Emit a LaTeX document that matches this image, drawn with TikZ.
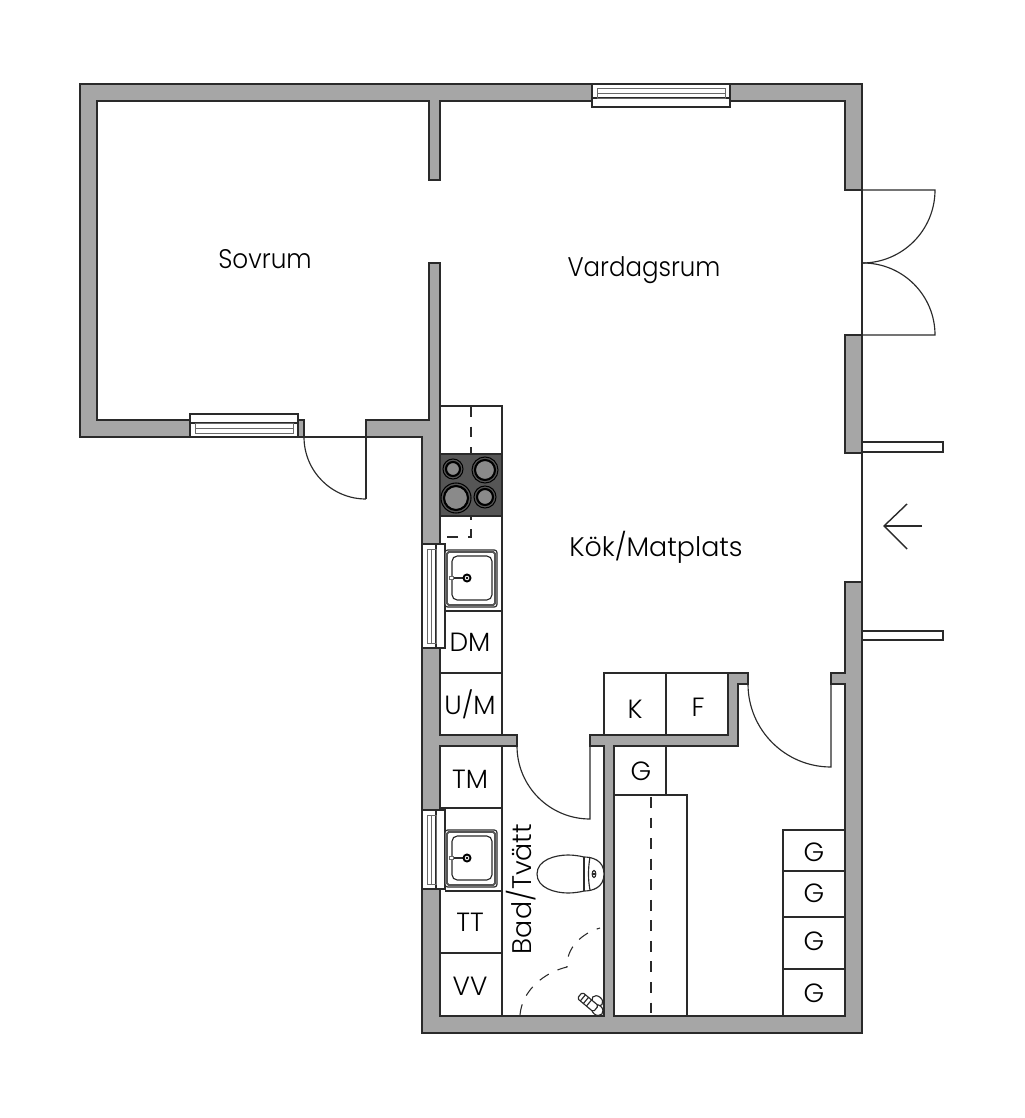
\documentclass[tikz,border=0pt]{standalone}
\usepackage{fontspec}
\setmainfont{Poppins Light}
\usepackage{xcolor}
\usepackage{tikz}
\usetikzlibrary{positioning}
\definecolor{wallgray}{HTML}{A6A6A6}
\definecolor{plateDark}{HTML}{565656}
\definecolor{burnerGray}{HTML}{8A8A8A}
\definecolor{inkDark}{HTML}{2A2A2A}
\tikzset{
	wall/.style={draw=inkDark, fill=wallgray, line width=0.6pt, line join=miter},
	fixture/.style={draw=inkDark, line width=0.65pt},
	pane/.style={draw=inkDark!70, line width=0.5pt},
	hidden/.style={draw=inkDark, line width=0.6pt, dash pattern=on 6.2pt off 5.5pt},
	room/.style={text=black, font=\fontsize{15.3}{18}\selectfont, inner sep=0pt},
	unit/.style={text=black, font=\fontsize{15}{18}\selectfont, inner sep=0pt},
}
\begin{document}
\begin{tikzpicture}[x=0.02cm, y=-0.02cm]
	\useasboundingbox (0,0) rectangle (1024,1118);

	\fill[white] (0,0) rectangle (1024,1118);

	% walls
	\draw[wall] (592,84) -- (80,84) -- (80,437) -- (190,437) -- (190,420) -- (97,420) -- (97,101) -- (429,101) -- (429,180) -- (440,180) -- (440,101) -- (592,101) -- cycle;
	\draw[wall] (730,84) -- (862,84) -- (862,190) -- (845,190) -- (845,101) -- (730,101) -- cycle;
	\draw[wall] (845,335) -- (862,335) -- (862,453) -- (845,453) -- cycle;
	\draw[wall] (366,437) -- (366,420) -- (429,420) -- (429,263) -- (440,263) -- (440,545) -- (422,545) -- (422,437) -- cycle;
	\draw[wall] (298,420) -- (304,420) -- (304,437) -- (298,437) -- cycle;
	\draw[wall] (422,648) -- (440,648) -- (440,735) -- (517,735) -- (517,746) -- (440,746) -- (440,810) -- (422,810) -- cycle;
	\draw[wall] (845,582) -- (862,582) -- (862,1033) -- (422,1033) -- (422,888) -- (440,888) -- (440,1016) -- (604,1016) -- (604,746) -- (590,746) -- (590,735) -- (728,735) -- (728,673) -- (748,673) -- (748,684) -- (738,684) -- (738,746) -- (614,746) -- (614,1016) -- (845,1016) -- (845,684) -- (831,684) -- (831,673) -- (845,673) -- cycle;

	% windows
	\draw[fixture, fill=white] (592,84) rectangle (730,107);
	\draw[fixture] (592,98) -- (730,98);
	\draw[pane] (597,88) rectangle (725,98);
	\draw[pane] (597,93) -- (725,93);

	\draw[fixture, fill=white] (190,414) rectangle (298,437);
	\draw[fixture] (190,423) -- (298,423);
	\draw[pane] (195,423) rectangle (293,433);
	\draw[pane] (195,428) -- (293,428);

	\draw[fixture, fill=white] (422,544) rectangle (445,648);
	\draw[fixture] (436,544) -- (436,648);
	\draw[pane] (427,549) rectangle (436,643);
	\draw[pane] (431,549) -- (431,643);

	\draw[fixture, fill=white] (422,810) rectangle (445,889);
	\draw[fixture] (436,810) -- (436,889);
	\draw[pane] (427,815) rectangle (436,884);
	\draw[pane] (431,815) -- (431,884);

	% doors
	\draw[fixture] (862,190) -- (862,335);
	\draw[fixture] (862,190) -- (935,190) arc[start angle=0, end angle=90, radius=73];
	\draw[fixture] (862,335) -- (935,335) arc[start angle=0, end angle=-90, radius=72];
	\draw[fixture] (304,437) -- (366,437) -- (366,499);
	\draw[fixture] (304,437) arc[start angle=180, end angle=90, radius=62];
	\draw[fixture] (517,746) arc[start angle=180, end angle=90, radius=73] -- (590,746);
	\draw[fixture] (748,684) arc[start angle=180, end angle=90, radius=83] -- (831,684);
	\draw[fixture] (862,453) -- (862,582);
	\draw[fixture, fill=white] (862,442) rectangle (943,452);
	\draw[fixture, fill=white] (862,631) rectangle (943,640);
	\draw[inkDark, line width=0.8pt] (922,526) -- (884,526);
	\draw[inkDark, line width=0.8pt] (907,504) -- (884,526) -- (907,549);

	% kitchen
	\draw[fixture] (440,406) rectangle (502,454);
	\draw[fixture] (502,516) -- (502,735);
	\draw[fixture] (445,611) -- (502,611);
	\draw[fixture] (440,673) -- (502,673);
	\draw[hidden] (471,406) -- (471,537) -- (440,537);
	\draw[fixture, fill=plateDark] (440,454) rectangle (502,516);
	\foreach \cx/\cy/\rr in {453/469/10, 485/470/13, 456/498/15, 485/497/11}{
		\draw[black, fill=burnerGray, line width=1.2pt] (\cx,\cy) circle[radius=\rr-3];
		\draw[black, line width=0.6pt] (\cx,\cy) circle[radius=\rr];
	}
	\foreach \sy in {550, 830}{
		\draw[fixture, fill=white, rounded corners=1.5pt] (445,\sy) rectangle (497,\sy+57);
		\draw[draw=inkDark!80, line width=1.1pt, rounded corners=1pt] (447,\sy+2) rectangle (495,\sy+55);
		\draw[fixture, rounded corners=3pt] (452,\sy+6) rectangle (492,\sy+50);
		\draw[inkDark, line width=1.1pt] (453,\sy+28) -- (467,\sy+28);
		\draw[pane, fill=white] (449,\sy+26.5) rectangle (453,\sy+29.5);
		\draw[black, line width=1.1pt, fill=white] (467,\sy+28) circle[radius=3.5];
		\fill[black] (467,\sy+28) circle[radius=1.3];
	}

	% bathroom
	\draw[fixture] (502,746) -- (502,1016);
	\draw[fixture] (440,808) -- (502,808);
	\draw[fixture] (445,891) -- (502,891);
	\draw[fixture] (440,953) -- (502,953);
	\draw[fixture, fill=white] (537,874) .. controls (537,860) and (555,855) .. (568,855) .. controls (574,855) and (580,856) .. (584,857) .. controls (592,857) and (604,860) .. (604,874) .. controls (604,888) and (592,891) .. (584,891) .. controls (580,892) and (574,893) .. (568,893) .. controls (555,893) and (537,888) .. (537,874) -- cycle;
	\draw[fixture, line width=0.9pt] (584,857) -- (584,891);
	\draw[fixture] (590,857) .. controls (588,868) and (588,880) .. (590,890);
	\draw[fixture] (594,874) ellipse[x radius=1.8, y radius=3.5];
	\draw[fixture] (592,874) -- (596,874);
	\draw[hidden] (520,1015) .. controls (522,990) and (545,972) .. (567,967) .. controls (566,948) and (582,933) .. (600,928);
	\begin{scope}[shift={(589,1003)}, rotate=-40]
		\draw[fixture, fill=white] (5,-7) ellipse[x radius=6, y radius=4.5];
		\draw[fixture, fill=white] (11,0) ellipse[x radius=6, y radius=5];
		\draw[fixture, fill=white, rounded corners=1pt] (-12,-4) rectangle (9,4);
		\draw[fixture] (-8,-4) -- (-8,4) (-4,-4) -- (-4,4) (0,-4) -- (0,4);
	\end{scope}

	% storage
	\draw[fixture] (604,673) rectangle (666,735);
	\draw[fixture] (666,673) -- (728,673);
	\draw[fixture] (614,795) rectangle (687,1016);
	\draw[hidden] (651,797) -- (651,1016);
	\draw[fixture] (666,746) -- (666,795);
	\draw[fixture] (845,830) -- (783,830) -- (783,1016);
	\foreach \gy in {871, 917, 969}{
		\draw[fixture] (783,\gy) -- (845,\gy);
	}

	% labels
	\node[room, xscale=0.92] (sovrum) at (265,259) {Sovrum};
	\node[room, xscale=0.91] (vardagsrum) at (644,270) {Vardagsrum};
	\node[room] (kok) at (656,547) {Kök/Matplats};
	\node[room, rotate=90] (bad) at (521,889) {Bad/Tvätt};
	\node[unit] (dm) at (470,642) {DM};
	\node[unit] (um) at (470,704) {U/M};
	\node[unit] (tm) at (470,779) {TM};
	\node[unit] (tt) at (470,922) {TT};
	\node[unit] (vv) at (470,986) {VV};
	\node[unit] (k) at (635,709) {K};
	\node[unit] (f) at (698,707) {F};
	\node[unit] (g0) at (641,771) {G};
	\node[unit] (g1) at (814,852) {G};
	\node[unit] (g2) at (814,893) {G};
	\node[unit] (g3) at (814,941) {G};
	\node[unit] (g4) at (814,993) {G};
\end{tikzpicture}
\end{document}
